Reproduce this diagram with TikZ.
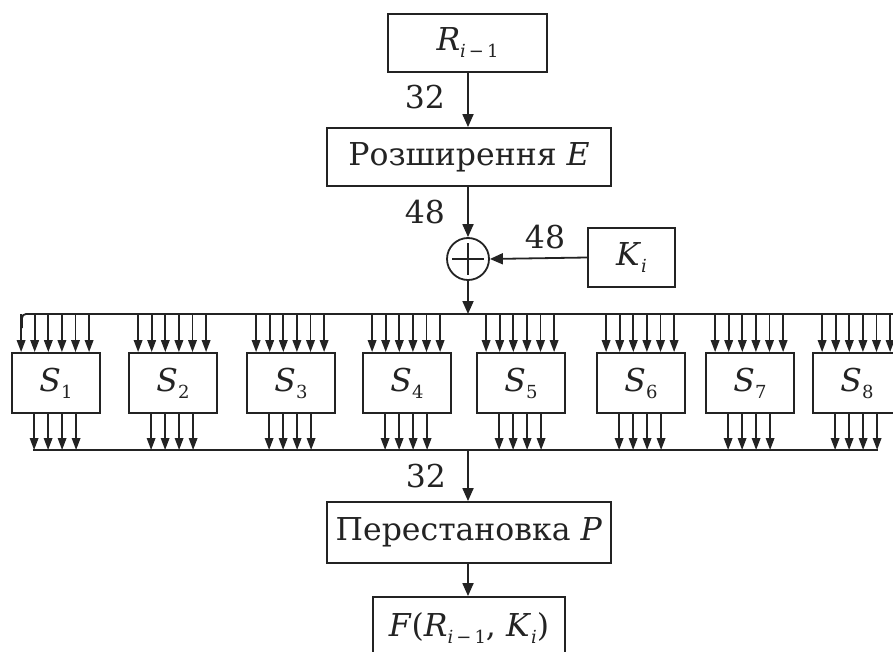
\documentclass[tikz,border=0pt]{standalone}
\usepackage{fontspec}
\setmainfont{DejaVu Serif}
\usetikzlibrary{arrows.meta,calc}
\definecolor{ink}{RGB}{35,35,35}
\newcommand\lsub[1]{\raisebox{-7pt}{\fontsize{18}{18}\selectfont #1}}
\begin{document}
\begin{tikzpicture}[x=1pt,y=-1pt,
  font=\fontsize{31.5}{38}\selectfont,
  line width=1.8pt, draw=ink, text=ink,
  arr/.style={-{Triangle[length=13pt,width=11pt]}},
  sarr/.style={-{Triangle[length=12pt,width=8.5pt]}},
  box/.style={draw, inner sep=0pt},
  sbox/.style={box, minimum width=88pt, minimum height=60pt},
  lbl/.style={inner sep=0pt}]
\useasboundingbox (0,0) rectangle (893,652);
\clip (0,0) rectangle (893,652);
% main column
\node[box, minimum width=159pt, minimum height=58pt] (R) at (467.5,43) {\textit{R}\lsub{\textit{i}\,−\,1}};
\node[box, minimum width=284pt, minimum height=58pt] (E) at (469,157) {Розширення \textit{E}};
\node[draw, circle, minimum size=42pt, inner sep=0pt] (X) at (468,259) {};
\draw ($(X.center)+(0,-16)$) -- ($(X.center)+(0,16)$);
\draw ($(X.center)+(-16,0)$) -- ($(X.center)+(16,0)$);
\node[box, minimum width=87pt, minimum height=59pt] (K) at (631.5,257.5) {\textit{K}\lsub{\textit{i}}};
\node[box, minimum width=284pt, minimum height=61pt] (P) at (469,532.5) {Перестановка \textit{P}};
\node[box, minimum width=192pt, minimum height=63pt] (F) at (469,628.5) {\textit{F}(\textit{R}\lsub{\textit{i}\,−\,1}, \textit{K}\lsub{\textit{i}})};
% labels
\node[lbl] (l1) at (425,97) {32};
\node[lbl] (l2) at (425,212) {48};
\node[lbl] (l3) at (545,237) {48};
\node[lbl] (l4) at (426,476) {32};
% buses
\coordinate (busT) at (468,314);
\coordinate (busB) at (468,450);
\coordinate (bT0) at (22,314);
\coordinate (bT1) at (905,314);
\coordinate (bB0) at (33,450);
\coordinate (bB1) at (878,450);
% main connectors
\draw[arr] (R.south -| busT) -- (E.north -| busT);
\draw[arr] (E.south -| busT) -- (X.north);
\draw[arr] (K.west) -- (X.east);
\draw[arr] (X.south) -- (busT);
\draw[arr] (busB) -- (P.north -| busB);
\draw[arr] (P.south -| busB) -- (F.north -| busB);
% S boxes
\foreach \n/\L in {1/12,2/129,3/247,4/363,5/477,6/597,7/706,8/813} {
  \node[sbox] (S\n) at (\L+44,383) {\textit{S}\lsub{\n}};
  \foreach \k in {0,...,5} {
    \draw[sarr] ([xshift=10pt+13.6pt*\k]S\n.north west |- bT0) -- ([xshift=10pt+13.6pt*\k]S\n.north west);
  }
  \foreach \k in {0,...,3} {
    \draw[sarr] ([xshift=23pt+14pt*\k]S\n.south west) -- ([xshift=23pt+14pt*\k]S\n.south west |- bB0);
  }
}
\draw[rounded corners=4pt] ($(bT0)+(0,14)$) -- (bT0) -- (bT1);
\draw (bB0) -- (bB1);
\end{tikzpicture}
\end{document}
